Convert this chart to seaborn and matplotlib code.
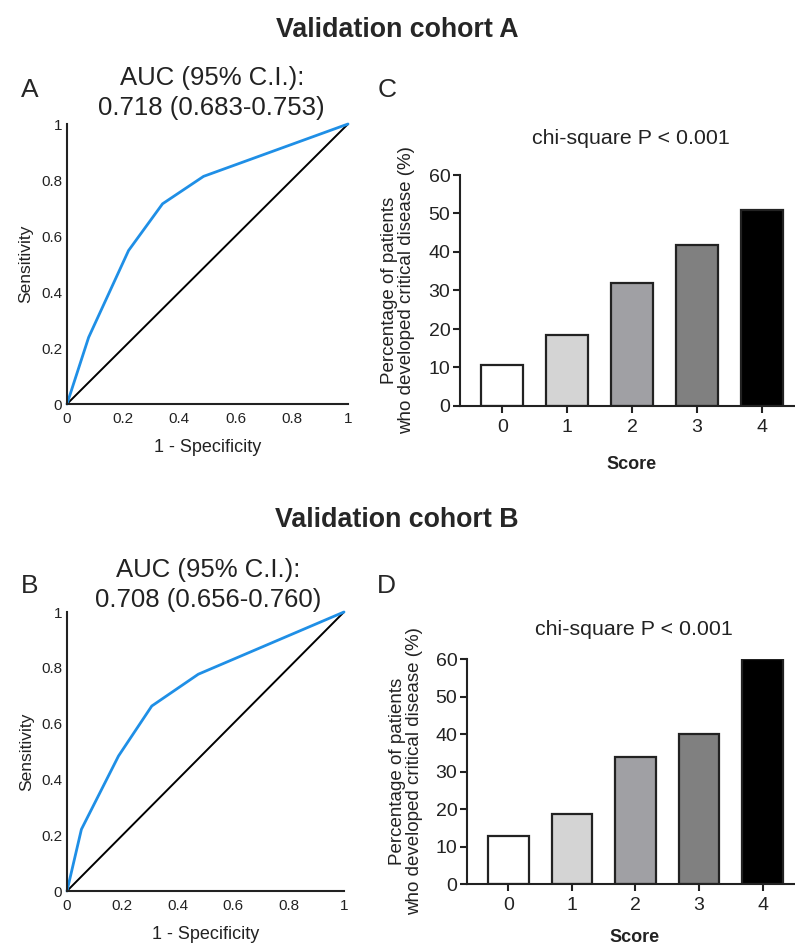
import numpy as np
import pandas as pd
import seaborn as sns
import matplotlib.pyplot as plt

# ROC curve points (1 - specificity, sensitivity)
roc_a_fpr = [0.0, 0.077, 0.219, 0.340, 0.486, 1.0]
roc_a_tpr = [0.0, 0.238, 0.548, 0.715, 0.813, 1.0]
roc_b_fpr = [0.0, 0.052, 0.186, 0.306, 0.474, 1.0]
roc_b_tpr = [0.0, 0.221, 0.484, 0.663, 0.777, 1.0]
ref_line = [0.0, 1.0]

# Percentage of patients who developed critical disease, per score
scores = ["0", "1", "2", "3", "4"]
pct_a = [10.6, 18.4, 31.9, 41.9, 50.9]
pct_b = [12.9, 18.8, 34.0, 39.9, 59.9]
bar_colors = ["#ffffff", "#d4d4d4", "#a0a0a4", "#808080", "#000000"]

roc_ticks = [0, 0.2, 0.4, 0.6, 0.8, 1]
roc_ticklabels = ["0", "0.2", "0.4", "0.6", "0.8", "1"]

sns.set_style("ticks")
plt.rcParams["font.family"] = ["Liberation Sans", "DejaVu Sans"]

W, H = 795, 946
fig = plt.figure(figsize=(W / 100, H / 100), dpi=100)


def add_ax(left, top, right, bottom):
    # axes placed in pixel coordinates of the final image
    return fig.add_axes([left / W, 1 - bottom / H, (right - left) / W, (bottom - top) / H])


def fig_text(x, y, s, **kw):
    fig.text(x / W, 1 - y / H, s, va="baseline", **kw)


def roc_panel(ax, fpr, tpr):
    sns.lineplot(x=ref_line, y=ref_line, ax=ax, color="black", lw=1.4,
                 estimator=None, sort=False)
    sns.lineplot(x=fpr, y=tpr, ax=ax, color="#1f8fe6", lw=2.0,
                 estimator=None, sort=False)
    for ln in ax.lines:
        ln.set_clip_on(False)
    ax.set_xlim(0, 1)
    ax.set_ylim(0, 1)
    sns.despine(ax=ax)
    for sp in ["left", "bottom"]:
        ax.spines[sp].set_linewidth(1.5)
        ax.spines[sp].set_color("#222222")
    ax.set_xticks(roc_ticks)
    ax.set_xticklabels(roc_ticklabels)
    ax.set_yticks(roc_ticks)
    ax.set_yticklabels(roc_ticklabels)
    ax.tick_params(axis="x", length=0, pad=6, labelsize=11, colors="#222222")
    ax.tick_params(axis="y", length=0, pad=3.5, labelsize=11, colors="#222222")
    ax.set_xlabel("1 - Specificity", fontsize=13, color="#222222")
    ax.set_ylabel("Sensitivity", fontsize=12.5, color="#222222")
    ax.xaxis.set_label_coords(0.5, -0.125)
    ax.yaxis.set_label_coords(-0.12, 0.5)


def bar_panel(ax, values, score_x, score_y):
    df = pd.DataFrame({"Score": scores, "pct": values})
    sns.barplot(data=df, x="Score", y="pct", hue="Score", palette=bar_colors,
                legend=False, width=0.64, edgecolor="#222222", linewidth=1.6,
                ax=ax)
    ax.set_xlim(-0.65, 4.51)
    ax.set_ylim(0, 60)
    ax.set_yticks([0, 10, 20, 30, 40, 50, 60])
    sns.despine(ax=ax)
    for sp in ["left", "bottom"]:
        ax.spines[sp].set_linewidth(1.5)
        ax.spines[sp].set_color("#222222")
    ax.tick_params(axis="both", direction="out", length=5, width=1.5,
                   color="#222222", labelcolor="#222222", labelsize=14)
    ax.tick_params(axis="y", pad=2)
    ax.tick_params(axis="x", pad=4)
    ax.set_xlabel("Score", fontsize=13, fontweight="bold", color="#222222")
    ax.set_ylabel("Percentage of patients\nwho developed critical disease (%)",
                  fontsize=13.5, color="#222222", linespacing=0.95)
    ax.xaxis.set_label_coords(score_x, score_y)
    ax.yaxis.set_label_coords(-0.135, 0.5)


ax_a = add_ax(67, 124, 348, 404)
roc_panel(ax_a, roc_a_fpr, roc_a_tpr)
ax_b = add_ax(67, 612, 344, 891)
roc_panel(ax_b, roc_b_fpr, roc_b_tpr)

ax_c = add_ax(460, 175, 795, 406)
bar_panel(ax_c, pct_a, 0.513, -0.215)
ax_d = add_ax(467, 659, 795, 884)
bar_panel(ax_d, pct_b, 0.512, -0.2)

# headings and panel annotations
fig_text(397, 37, "Validation cohort A", ha="center", fontsize=19.3, fontweight="bold")
fig_text(397, 527, "Validation cohort B", ha="center", fontsize=19.3, fontweight="bold")

fig_text(30, 97, "A", ha="center", fontsize=19)
fig_text(387, 97, "C", ha="center", fontsize=19)
fig_text(30, 593, "B", ha="center", fontsize=19)
fig_text(386, 593, "D", ha="center", fontsize=19)

fig_text(212, 85, "AUC (95% C.I.):", ha="center", fontsize=18.5, color="#222222")
fig_text(211, 115, "0.718 (0.683-0.753)", ha="center", fontsize=18.5, color="#222222")
fig_text(208, 577, "AUC (95% C.I.):", ha="center", fontsize=18.5, color="#222222")
fig_text(208, 607, "0.708 (0.656-0.760)", ha="center", fontsize=18.5, color="#222222")

fig_text(631, 144, "chi-square P < 0.001", ha="center", fontsize=15.4, color="#222222")
fig_text(634, 635, "chi-square P < 0.001", ha="center", fontsize=15.4, color="#222222")

fig.savefig("out.png", dpi=100)
